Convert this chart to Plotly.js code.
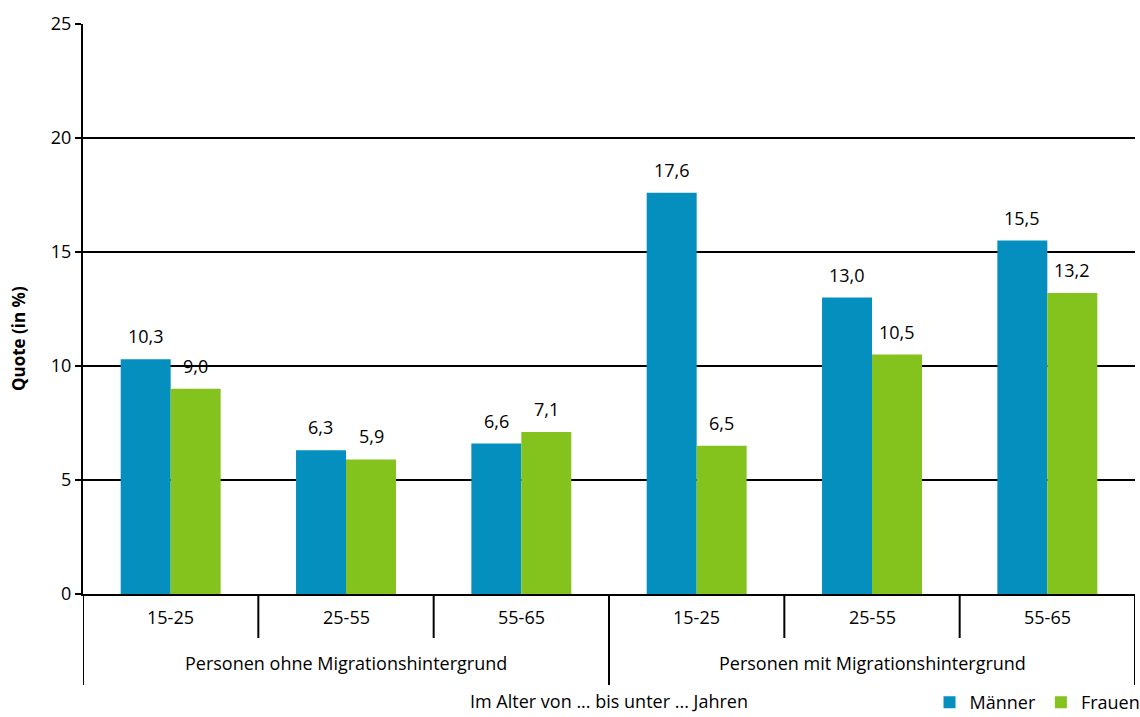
<!DOCTYPE html>
<html>
<head>
<meta charset="utf-8">
<script src="https://cdn.plot.ly/plotly-3.0.1.min.js"></script>
<style>html,body{margin:0;padding:0;background:#fff;}</style>
</head>
<body>
<div id="chart" style="width:1140px;height:717px;"></div>
<script>
const ageLabels = ["15-25", "25-55", "55-65", "15-25", "25-55", "55-65"];
const groupLabels = ["Personen ohne Migrationshintergrund", "Personen mit Migrationshintergrund"];
const maenner = [10.3, 6.3, 6.6, 17.6, 13.0, 15.5];
const frauen = [9.0, 5.9, 7.1, 6.5, 10.5, 13.2];
const seriesNames = ["Männer", "Frauen"];
const yTicks = [0, 5, 10, 15, 20, 25];

const FONT = "Open Sans, Noto Sans, sans-serif";
const FS = 18;
const BLUE = "#058FBF";
const GREEN = "#84C21E";
const xIdx = ageLabels.map((_, i) => i);
const off = 0.143;
const PH = 570; // plot height in px
const py = px => -(px - 594) / PH; // px below axis -> paper y

const fmt = v => v.toFixed(1).replace(".", ",");
const tf = {family: FONT, size: FS, color: "#000"};

const traces = [
  {type: "bar", name: seriesNames[0], x: xIdx, y: maenner, marker: {color: BLUE}, hoverinfo: "skip"},
  {type: "bar", name: seriesNames[1], x: xIdx, y: frauen, marker: {color: GREEN}, hoverinfo: "skip"}
];

const annotations = [];
maenner.forEach((v, i) => annotations.push({x: i - off, y: v, xref: "x", yref: "y", text: fmt(v), showarrow: false, yshift: 23, font: tf}));
frauen.forEach((v, i) => annotations.push({x: i + off, y: v, xref: "x", yref: "y", text: fmt(v), showarrow: false, yshift: 23, font: tf}));
ageLabels.forEach((a, i) => annotations.push({x: i, y: py(617), xref: "x", yref: "paper", text: a, showarrow: false, font: tf, yanchor: "middle"}));
groupLabels.forEach((g, k) => annotations.push({x: 1 + 3 * k, y: py(663), xref: "x", yref: "paper", text: g, showarrow: false, font: tf, yanchor: "middle"}));
annotations.push({x: 0.5, y: py(701), xref: "paper", yref: "paper", text: "Im Alter von ... bis unter ... Jahren", showarrow: false, font: tf, yanchor: "middle"});
annotations.push({x: (19 - 83) / 1052, y: py(339), xref: "paper", yref: "paper", text: "<b>Quote (in %)</b>", textangle: -90, showarrow: false, font: {family: FONT, size: 17, color: "#000"}, xanchor: "center", yanchor: "middle"});

const shapes = [];
const lineStyle = {color: "#000", width: 2};
[0.5, 1.5, 3.5, 4.5].forEach(b => shapes.push({type: "line", xref: "x", yref: "paper", x0: b, x1: b, y0: 0, y1: py(638), line: lineStyle}));
[-0.5, 2.5, 5.5].forEach(b => shapes.push({type: "line", xref: "x", yref: "paper", x0: b, x1: b, y0: 0, y1: py(685), line: lineStyle}));

const layout = {
  width: 1140, height: 717,
  margin: {l: 83, r: 5, t: 24, b: 123, autoexpand: false},
  paper_bgcolor: "#fff", plot_bgcolor: "#fff",
  barmode: "group", bargap: 0.43, bargroupgap: 0,
  font: tf,
  xaxis: {
    range: [-0.5, 5.5], tickvals: xIdx, showticklabels: false,
    showgrid: false, zeroline: false, showline: true, linecolor: "#000", linewidth: 2,
    ticks: "", fixedrange: true
  },
  yaxis: {
    range: [0, 25], tickvals: yTicks, ticktext: yTicks.map(String),
    showgrid: true, gridcolor: "#000", gridwidth: 2,
    zeroline: false, showline: true, linecolor: "#000", linewidth: 2,
    ticks: "outside", ticklen: 6, tickwidth: 2, tickcolor: "#000",
    tickfont: tf, fixedrange: true
  },
  legend: {orientation: "h", x: 1.01, xanchor: "right", y: py(721), yanchor: "bottom", font: tf, itemwidth: 30, traceorder: "normal", bgcolor: "rgba(0,0,0,0)", tracegroupgap: 0},
  annotations: annotations,
  shapes: shapes,
  showlegend: true
};

Plotly.newPlot("chart", traces, layout, {displayModeBar: false, staticPlot: true});
</script>
</body>
</html>
